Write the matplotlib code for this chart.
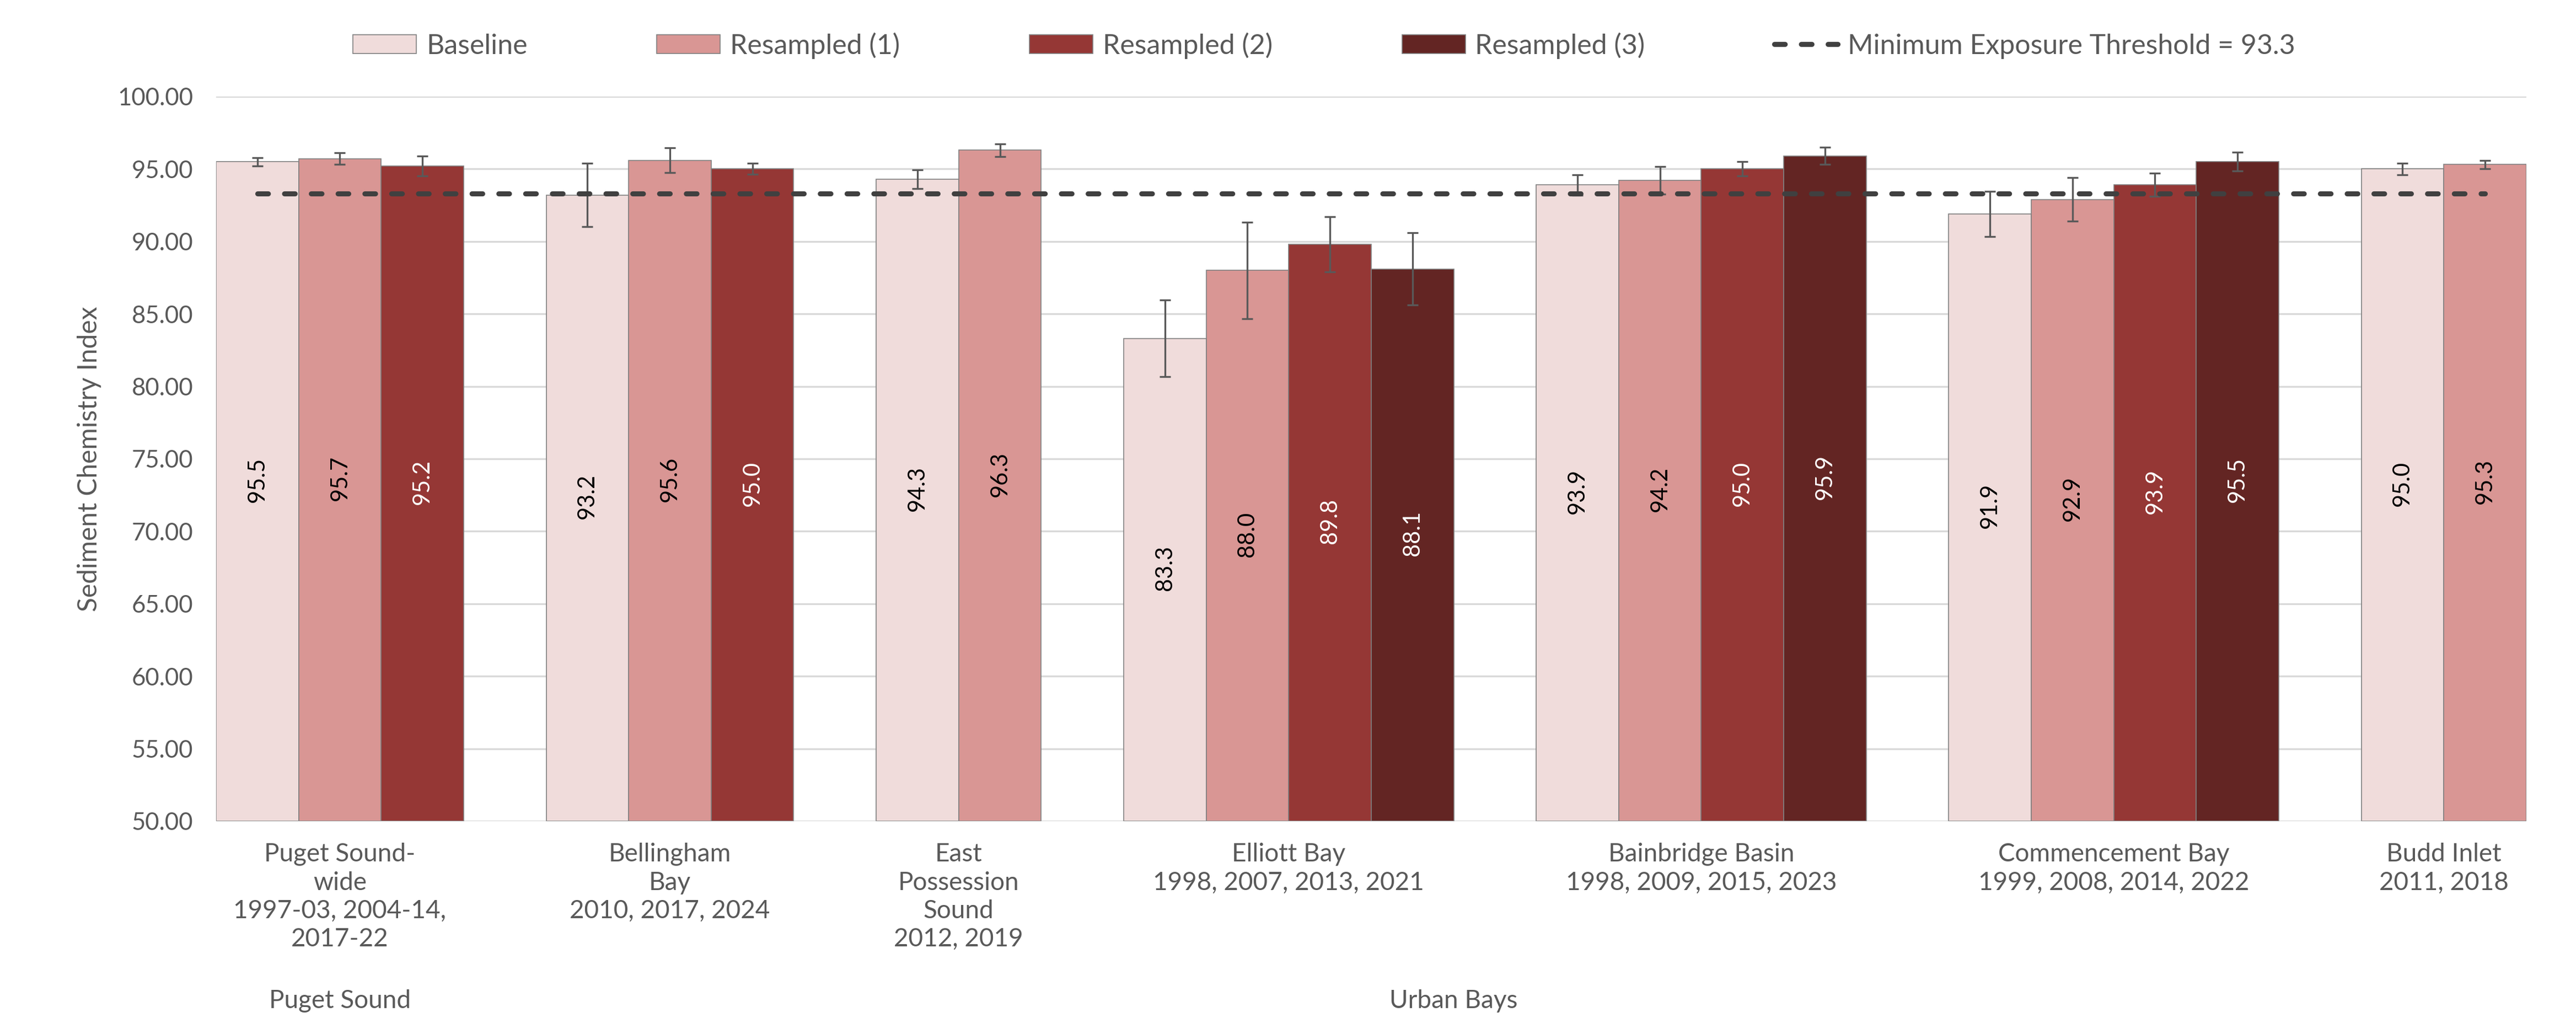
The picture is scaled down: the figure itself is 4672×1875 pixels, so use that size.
import numpy as np
import matplotlib.pyplot as plt

plt.rcParams['font.family'] = ['Lato', 'DejaVu Sans']

# Данные
sites = ['Puget Sound-\nwide', 'Bellingham\nBay', 'East\nPossession\nSound', 'Elliott Bay',
         'Bainbridge Basin', 'Commencement Bay', 'Budd Inlet']
years = ['1997-03, 2004-14,\n2017-22', '2010, 2017, 2024', '2012, 2019', '1998, 2007, 2013, 2021',
         '1998, 2009, 2015, 2023', '1999, 2008, 2014, 2022', '2011, 2018']
regions = ['Puget Sound', 'Urban Bays', 'Urban Bays', 'Urban Bays', 'Urban Bays', 'Urban Bays', 'Urban Bays']

series_names = ['Baseline', 'Resampled (1)', 'Resampled (2)', 'Resampled (3)']
baseline = [95.5, 93.2, 94.3, 83.3, 93.9, 91.9, 95.0]
resampled1 = [95.7, 95.6, 96.3, 88.0, 94.2, 92.9, 95.3]
resampled2 = [95.2, 95.0, None, 89.8, 95.0, 93.9, None]
resampled3 = [None, None, None, 88.1, 95.9, 95.5, None]

baseline_err = [0.29, 2.2, 0.65, 2.65, 0.7, 1.55, 0.4]
resampled1_err = [0.4, 0.84, 0.44, 3.33, 0.95, 1.5, 0.28]
resampled2_err = [0.7, 0.38, None, 1.92, 0.5, 0.8, None]
resampled3_err = [None, None, None, 2.49, 0.6, 0.65, None]

threshold = 93.3

colors = ['#F0DCDB', '#D99694', '#953735', '#632523']
label_colors = ['black', 'black', 'white', 'white']
text_color = '#595959'

values = [baseline, resampled1, resampled2, resampled3]
errors = [baseline_err, resampled1_err, resampled2_err, resampled3_err]

# Позиции столбцов: каждый столбец занимает одну ячейку, между группами одна пустая
n_bars = [sum(v[i] is not None for v in values) for i in range(len(sites))]
starts = []
pos = 0
for n in n_bars:
    starts.append(pos)
    pos += n + 1
total = pos - 1

fig = plt.figure(figsize=(4672 / 300, 1875 / 300), dpi=300)
ax = fig.add_axes([0.0839, 0.2059, 0.8968, 0.7008])

all_x = []
for s, (name, vals, errs) in enumerate(zip(series_names, values, errors)):
    xs, ys, es = [], [], []
    for i in range(len(sites)):
        if vals[i] is not None:
            xs.append(starts[i] + s + 0.5)
            ys.append(vals[i])
            es.append(errs[i])
    all_x += xs
    ys = np.array(ys)
    ax.bar(xs, ys - 50, bottom=50, width=1.0, color=colors[s], edgecolor='#808080',
           linewidth=0.4, label=name, zorder=2)
    ax.errorbar(xs, ys, yerr=es, fmt='none', ecolor=text_color, elinewidth=0.8,
                capsize=2.4, capthick=0.8, zorder=3)
    for x, y in zip(xs, ys):
        ax.text(x, (50 + y) / 2 + 0.8, f'{y:.1f}', rotation=90, ha='center', va='center',
                fontsize=10, color=label_colors[s], zorder=4)

all_x = sorted(all_x)
ax.plot(all_x, [threshold] * len(all_x), color='#404040', linewidth=2.2,
        dashes=(2.1, 3.2), dash_capstyle='round', zorder=5,
        label=f'Minimum Exposure Threshold = {threshold}')

ax.set_xlim(0, total)
ax.set_ylim(50, 100)
ax.set_yticks(np.arange(50, 100.1, 5))
ax.set_yticklabels([f'{v:.2f}' for v in np.arange(50, 100.1, 5)])
ax.tick_params(axis='y', length=0, pad=10, labelsize=10.5, labelcolor=text_color)
ax.set_xticks([])
ax.grid(axis='y', color='#D9D9D9', linewidth=0.8, zorder=0)
ax.set_axisbelow(True)
for sp in ax.spines.values():
    sp.set_visible(False)

ax.set_ylabel('Sediment Chemistry Index', fontsize=11.5, color=text_color, labelpad=7)

# Подписи категорий
trans = ax.get_xaxis_transform()
for i in range(len(sites)):
    cx = starts[i] + n_bars[i] / 2
    ax.text(cx, -0.03, sites[i] + '\n' + years[i], transform=trans, ha='center', va='top',
            fontsize=11, color=text_color, linespacing=1.27)

for reg in dict.fromkeys(regions):
    idx = [i for i, r in enumerate(regions) if r == reg]
    left = starts[idx[0]] - (1 if idx[0] > 0 else 0)
    right = starts[idx[-1]] + n_bars[idx[-1]] - (1 if idx[0] > 0 else 0)
    ax.text((left + right) / 2, -0.232, reg, transform=trans, ha='center', va='top',
            fontsize=11, color=text_color)

# Легенда: сначала столбцы, потом линия порога
handles, labels = ax.get_legend_handles_labels()
order = [labels.index(n) for n in series_names] + [labels.index(f'Minimum Exposure Threshold = {threshold}')]
fig.legend([handles[k] for k in order], [labels[k] for k in order],
           loc='center', bbox_to_anchor=(0.514, 0.956), ncol=5, frameon=False,
           fontsize=12, labelcolor=text_color, handlelength=2.3, handleheight=0.65,
           columnspacing=4.7, handletextpad=0.35)

fig.savefig('out.png', dpi=300)
